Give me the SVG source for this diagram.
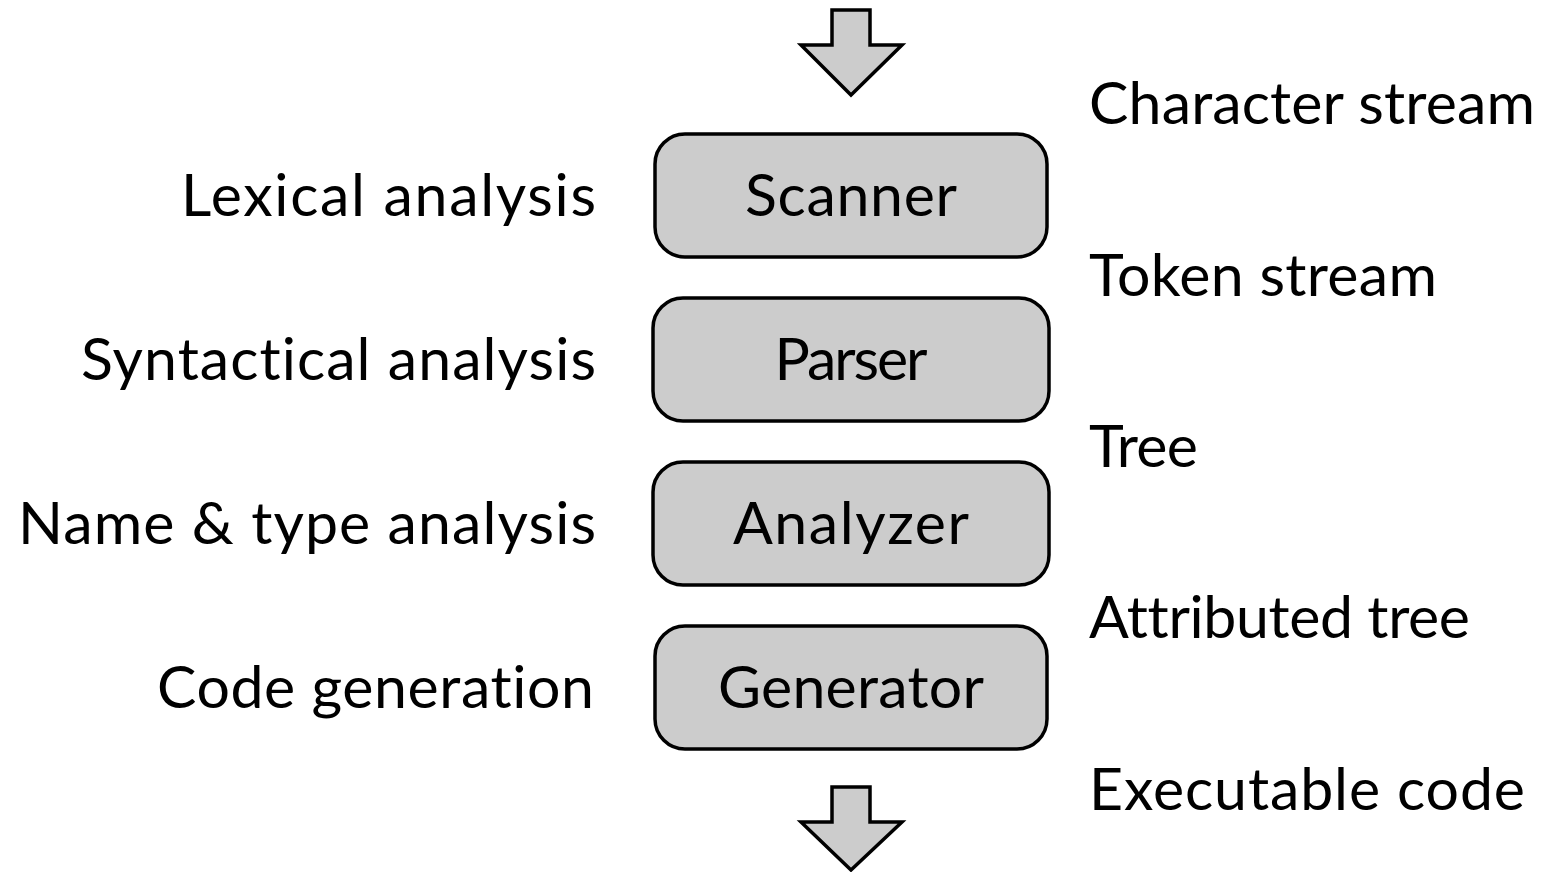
<svg xmlns="http://www.w3.org/2000/svg" width="1541" height="872" viewBox="0 0 1541 872">
<style>
.box{fill:#cccccc;stroke:#000;stroke-width:3.5}
.arr{fill:#cccccc;stroke:#000;stroke-width:3.5;stroke-linejoin:miter}
text{font-family:Lato,"Open Sans",sans-serif;font-size:59px;fill:#000;font-variant-ligatures:none;font-feature-settings:"liga" 0}
.c{text-anchor:middle}
.r{text-anchor:end}
</style>
<rect width="1541" height="872" fill="#fff"/>
<g id="connectors">
<polygon class="arr" points="832,10 870,10 870,45 902,45 851,95 801,45 832,45"/>
<polygon class="arr" points="832,787 870,787 870,822 902,822 851,870 801,822 832,822"/>
</g>
<g id="scanner"><rect class="box" x="655" y="134" width="392" height="123" rx="30"/><text class="c" x="851" y="216" textLength="212" lengthAdjust="spacing">Scanner</text></g>
<g id="parser"><rect class="box" x="653" y="298" width="396" height="123" rx="30"/><text class="c" x="851" y="380" textLength="153" lengthAdjust="spacing">Parser</text></g>
<g id="analyzer"><rect class="box" x="653" y="462" width="396" height="123" rx="30"/><text class="c" x="851" y="544" textLength="236" lengthAdjust="spacing">Analyzer</text></g>
<g id="generator"><rect class="box" x="655" y="626" width="392" height="123" rx="30"/><text class="c" x="851" y="708" textLength="266" lengthAdjust="spacing">Generator</text></g>
<g id="left-labels">
<text x="181" y="216" textLength="415" lengthAdjust="spacing">Lexical analysis</text>
<text x="81" y="380" textLength="515" lengthAdjust="spacing">Syntactical analysis</text>
<text x="18" y="544" textLength="578" lengthAdjust="spacing">Name &amp; type analysis</text>
<text x="157" y="708" textLength="437" lengthAdjust="spacing">Code generation</text>
</g>
<g id="right-labels">
<text x="1089" y="124" textLength="446" lengthAdjust="spacing">Character stream</text>
<text x="1089" y="296" textLength="348" lengthAdjust="spacing">Token stream</text>
<text x="1089" y="467" textLength="109" lengthAdjust="spacing">Tree</text>
<text x="1089" y="638" textLength="381" lengthAdjust="spacing">Attributed tree</text>
<text x="1089" y="810" textLength="436" lengthAdjust="spacing">Executable code</text>
</g>
</svg>
